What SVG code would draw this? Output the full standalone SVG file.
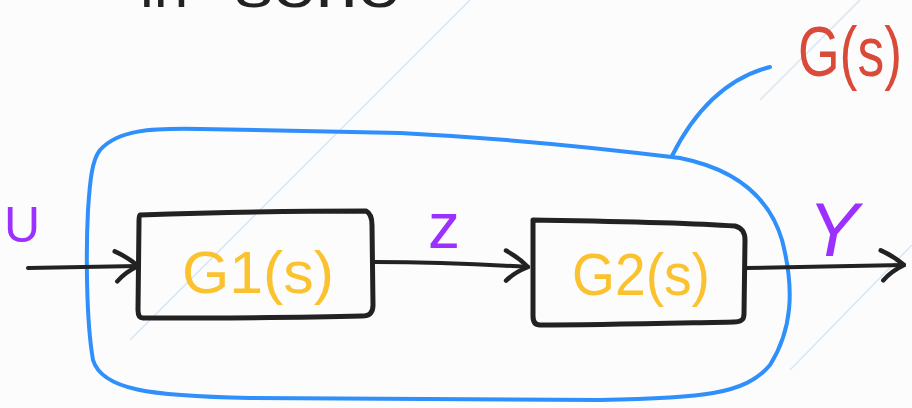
<svg xmlns="http://www.w3.org/2000/svg" width="912" height="408" viewBox="0 0 912 408">
  <style>
    .ink { fill: none; stroke: #222222; stroke-width: 5; stroke-linecap: round; stroke-linejoin: round; }
    .wire { fill: none; stroke: #222222; stroke-width: 4; stroke-linecap: round; stroke-linejoin: round; }
    .hull { fill: none; stroke: #2f8ffb; stroke-width: 4; stroke-linecap: round; stroke-linejoin: round; }
    .faint { fill: none; stroke: #d6e6f4; stroke-width: 1.5; }
    .tf { font-family: "Liberation Sans", "DejaVu Sans", sans-serif; fill: #fbc22f; font-size: 60px; }
    .sig { font-family: "Liberation Sans", "DejaVu Sans", sans-serif; fill: #9b30ff; }
    .note { font-family: "Liberation Sans", "DejaVu Sans", sans-serif; fill: #222222; font-size: 62px; }
  </style>
  <defs>
    <marker id="chev" viewBox="0 0 28 36" refX="26" refY="18" markerWidth="28" markerHeight="36" markerUnits="userSpaceOnUse" orient="auto">
      <path d="M3,3 Q16,9 26,18 Q13,24 5,33" fill="none" stroke="#222222" stroke-width="4.5" stroke-linecap="round" stroke-linejoin="round"/>
    </marker>
  </defs>

  <rect width="912" height="408" fill="#fcfcfc"/>

  <!-- faint background strokes -->
  <g id="backdrop">
    <line class="faint" x1="470" y1="0" x2="130" y2="340"/>
    <line class="faint" x1="912" y1="245" x2="790" y2="370"/>
    <line class="faint" x1="860" y1="0" x2="760" y2="100"/>
  </g>

  <!-- heading, cut by the top edge -->
  <g id="heading">
    <text class="note" x="140" y="7">in</text>
    <text class="note" x="235" y="7" textLength="165" lengthAdjust="spacingAndGlyphs">serie</text>
  </g>

  <!-- overall system G(s): blue outline and leader -->
  <g id="system">
    <path class="hull" d="M100,150 C118,130 150,128 200,129 L400,133 C500,138 600,148 680,158 C740,170 770,200 782,240 C795,290 792,330 770,365 C745,395 700,398 600,400 L250,398 C150,396 102,390 93,360 C86,320 86,250 88,210 C90,180 92,160 100,150 Z"/>
    <path class="hull" d="M672,156 C690,120 720,80 770,67"/>
    <text x="798" y="76" font-family="Liberation Sans, DejaVu Sans, sans-serif" font-size="70" fill="#d94a38" textLength="104" lengthAdjust="spacingAndGlyphs">G(s)</text>
  </g>

  <!-- block G1(s) -->
  <g id="block-g1">
    <path class="ink" d="M140,215 C200,213 300,211 366,211 C370,213 372,218 372,225 L373,305 C373,312 370,316 362,316 C290,318 200,318 143,318 C139,318 138,314 138,310 L139,222 C139,218 139,216 140,215 Z"/>
    <text class="tf" x="182" y="293" textLength="152" lengthAdjust="spacingAndGlyphs">G1(s)</text>
  </g>

  <!-- block G2(s) -->
  <g id="block-g2">
    <path class="ink" d="M533,220 C600,221 680,222 735,226 C742,228 745,232 745,240 L744,314 C744,320 741,322 734,322 C680,323 600,325 540,325 C535,325 533,322 533,316 Z"/>
    <text class="tf" x="572" y="295" textLength="138" lengthAdjust="spacingAndGlyphs">G2(s)</text>
  </g>

  <!-- signals -->
  <g id="connectors">
    <path class="wire" d="M28,268 L138,266" marker-end="url(#chev)"/>
    <path class="wire" d="M374,262 C430,262 480,264 528,267" marker-end="url(#chev)"/>
    <path class="wire" d="M746,268 C800,267 850,266 904,265" marker-end="url(#chev)"/>
  </g>

  <g id="labels">
    <text class="sig" x="4" y="242" font-size="50">U</text>
    <text class="sig" x="428" y="248" font-size="64">z</text>
    <text class="sig" x="808" y="256" font-size="76" font-style="italic">Y</text>
  </g>
</svg>
